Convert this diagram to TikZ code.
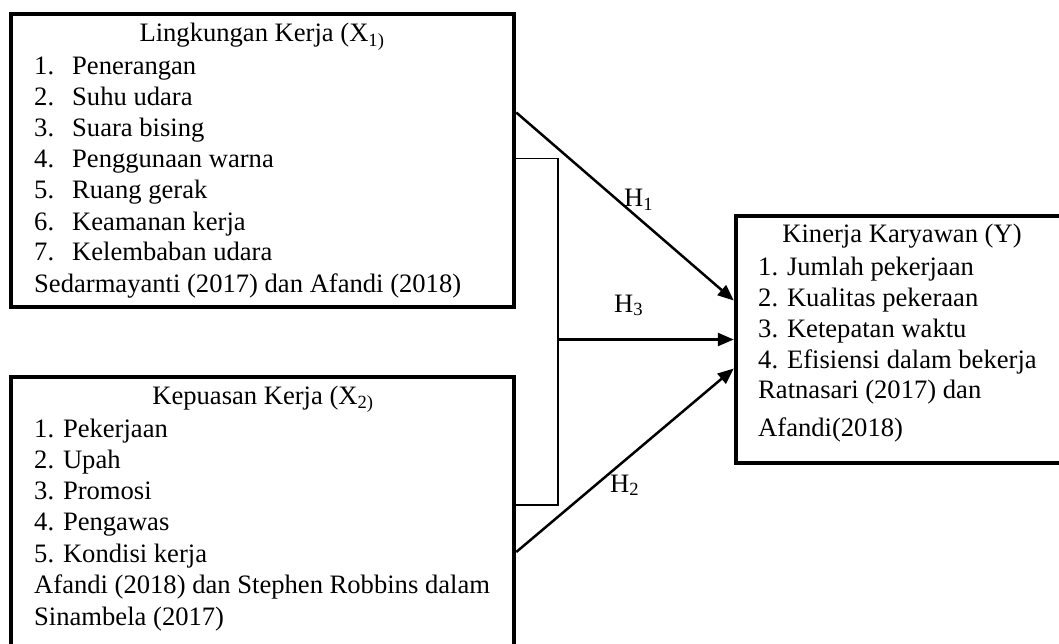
\documentclass[tikz,border=0pt]{standalone}
\usepackage{fontspec}
\setmainfont{Liberation Serif}
\usepackage{tikz}
\usetikzlibrary{arrows.meta}

\begin{document}
\begin{tikzpicture}[x=1pt,y=-1pt,
        font=\fontsize{26.6}{31}\selectfont,
        box/.style={draw,line width=4.5pt,inner sep=0pt},
        txt/.style={anchor=base west,inner sep=0pt},
        arr/.style={line width=2.5pt,-{Triangle[length=16pt,width=13pt]}}]
        \useasboundingbox (0,0) rectangle (1059,644);

        % kotak variabel
        \node[box,minimum width=503pt,minimum height=293pt] (X1) at (262.5,160.5) {};
        \node[box,minimum width=503pt,minimum height=290pt] (X2) at (262.5,522) {};
        \node[box,minimum width=332pt,minimum height=247pt] (Y) at (902,339.5) {};

        % lingkungan kerja
        \node[anchor=base,inner sep=0pt] (tX1) at (262,42) {Lingkungan Kerja (X\textsubscript{1)}};
        \foreach \t [count=\i] in {Penerangan,Suhu udara,Suara bising,Penggunaan warna,Ruang gerak,Keamanan kerja,Kelembaban udara}
          \node[txt] (a\i) at (34,{44+31*\i}) {\makebox[38pt][l]{\i.}\t};
        \node[txt] (sX1) at (34,292) {Sedarmayanti (2017) dan Afandi (2018)};

        % kepuasan kerja
        \node[anchor=base,inner sep=0pt] (tX2) at (263,404) {Kepuasan Kerja (X\textsubscript{2)}};
        \foreach \t [count=\i] in {Pekerjaan,Upah,Promosi,Pengawas,Kondisi kerja}
          \node[txt] (b\i) at (34,{406+31.2*\i}) {\i. \t};
        \node[txt] (sX2a) at (34,593) {Afandi (2018) dan Stephen Robbins dalam};
        \node[txt] (sX2b) at (34,625) {Sinambela (2017)};

        % kinerja karyawan
        \node[anchor=base,inner sep=0pt] (tY) at (902,243) {Kinerja Karyawan (Y)};
        \foreach \t [count=\i] in {Jumlah pekerjaan,Kualitas pekeraan,Ketepatan waktu,Efisiensi dalam bekerja}
          \node[txt] (c\i) at (758,{244+31*\i}) {\i. \t};
        \node[txt] (sYa) at (758,398) {Ratnasari (2017) dan};
        \node[txt] (sYb) at (758,436) {Afandi(2018)};

        % hipotesis
        \coordinate (br) at (558,339.5);
        \draw[line width=1.8pt] ([yshift=2pt]X1.east) -| (br) |- ([yshift=17pt]X2.east);
        \draw[arr] ([yshift=48pt]X1.east) -- ([yshift=39pt]Y.west);
        \draw[arr] (br) -- (Y.west);
        \draw[arr] ([yshift=-30pt]X2.east) -- ([yshift=-29pt]Y.west);

        \node[txt] (H1) at (624,207) {H\textsubscript{1}};
        \node[txt] (H3) at (614,312) {H\textsubscript{3}};
        \node[txt] (H2) at (610,492) {H\textsubscript{2}};
      \end{tikzpicture}
\end{document}
